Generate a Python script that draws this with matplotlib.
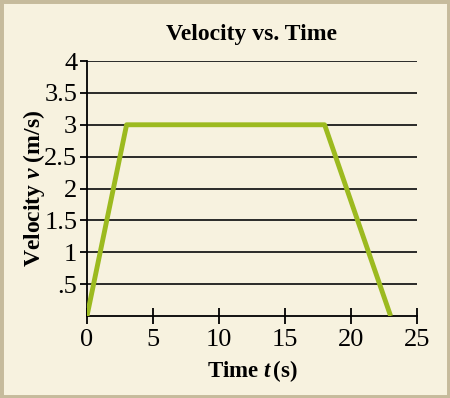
import matplotlib.pyplot as plt
from matplotlib.patches import Rectangle

# velocity profile
t = [0, 3, 18, 23]
v = [0, 3, 3, 0]
xticks = [0, 5, 10, 15, 20, 25]
yticks = [0.5, 1, 1.5, 2, 2.5, 3, 3.5, 4]
yticklabels = [".5", "1", "1.5", "2", "2.5", "3", "3.5", "4"]

bg = "#f7f2df"
plt.rcParams['font.family'] = ['Liberation Serif', 'DejaVu Serif']
plt.rcParams['mathtext.fontset'] = 'custom'
plt.rcParams['mathtext.rm'] = 'Liberation Serif'
plt.rcParams['mathtext.it'] = 'Liberation Serif:italic'
plt.rcParams['mathtext.bf'] = 'Liberation Serif:bold'
plt.rcParams['mathtext.bfit'] = 'Liberation Serif:italic:bold'

fig = plt.figure(figsize=(4.5, 3.98), dpi=100, facecolor=bg)
fig.patches.append(Rectangle((0, 0), 1, 1, transform=fig.transFigure,
                             fill=False, edgecolor="#c6bb9c", linewidth=5))
ax = fig.add_axes([0.1933, 0.206, 0.7334, 0.6407], facecolor=bg)

for y in yticks:
    ax.axhline(y, color="#1a1a1a", lw=1.3, zorder=1)
ax.plot(t, v, color="#9cba1f", lw=3.5, solid_capstyle="butt", zorder=3)

ax.set_xlim(0, 25)
ax.set_ylim(0, 4)
ax.set_xticks(xticks)
ax.set_yticks(yticks)
ax.set_yticklabels(yticklabels)
for s in ["top", "right"]:
    ax.spines[s].set_visible(False)
ax.spines["left"].set_linewidth(1.3)
ax.spines["bottom"].set_linewidth(1.3)
ax.tick_params(axis="x", direction="inout", length=11, width=1.3, labelsize=19, pad=4)
ax.tick_params(axis="y", direction="out", length=5, width=1.3, labelsize=19, pad=2)

ax.set_title("Velocity vs. Time", fontsize=17, fontweight="bold", pad=15)
ax.set_xlabel(r"Time $\mathbfit{t}\,$(s)", fontsize=16.5, fontweight="bold", labelpad=5)
ax.set_ylabel(r"Velocity $\mathbfit{v}$ (m/s)", fontsize=17, fontweight="bold", labelpad=-2)

fig.savefig("out.png", dpi=100, facecolor=bg)
